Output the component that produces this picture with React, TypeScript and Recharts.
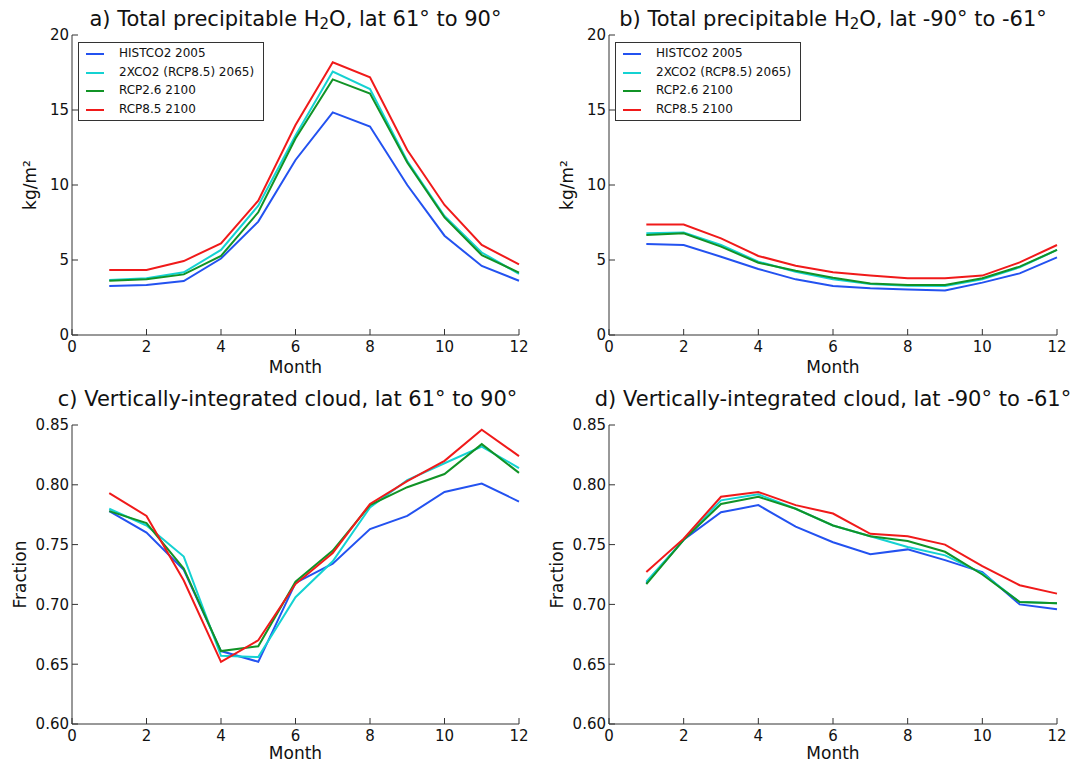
import React from 'react';
import { LineChart, Line, XAxis, YAxis } from 'recharts';

const months = [1, 2, 3, 4, 5, 6, 7, 8, 9, 10, 11, 12];

const seriesNames = ['HISTCO2 2005', '2XCO2 (RCP8.5) 2065)', 'RCP2.6 2100', 'RCP8.5 2100'];
const seriesKeys = ['hist', 'x2co2', 'rcp26', 'rcp85'];
const seriesColors = ['#2352f0', '#14d2d2', '#119326', '#f01a1a'];

const monthTicks = [0, 2, 4, 6, 8, 10, 12];
const pwTicks = [0, 5, 10, 15, 20];
const cloudTicks = [0.6, 0.65, 0.7, 0.75, 0.8, 0.85];

// a) total precipitable water, lat 61 to 90
const pwNorthHist = [3.27, 3.33, 3.6, 5.1, 7.56, 11.67, 14.84, 13.9, 10.0, 6.62, 4.6, 3.62];
const pwNorth2x = [3.67, 3.78, 4.18, 5.67, 8.62, 13.3, 17.56, 16.4, 11.6, 7.93, 5.5, 4.07];
const pwNorth26 = [3.62, 3.71, 4.04, 5.27, 8.18, 13.1, 17.04, 16.1, 11.5, 7.84, 5.33, 4.16];
const pwNorth85 = [4.33, 4.33, 4.93, 6.11, 8.96, 14.0, 18.18, 17.18, 12.33, 8.67, 6.0, 4.71];

// b) total precipitable water, lat -90 to -61
const pwSouthHist = [6.07, 6.0, 5.22, 4.4, 3.71, 3.27, 3.11, 3.04, 2.96, 3.49, 4.11, 5.18];
const pwSouth2x = [6.78, 6.84, 6.0, 4.89, 4.22, 3.71, 3.4, 3.29, 3.27, 3.71, 4.51, 5.67];
const pwSouth26 = [6.67, 6.78, 5.89, 4.82, 4.29, 3.82, 3.44, 3.33, 3.33, 3.78, 4.56, 5.67];
const pwSouth85 = [7.36, 7.36, 6.44, 5.27, 4.62, 4.18, 3.96, 3.78, 3.78, 3.96, 4.84, 6.0];

// c) vertically-integrated cloud, lat 61 to 90
const clNorthHist = [0.778, 0.76, 0.729, 0.661, 0.652, 0.718, 0.734, 0.763, 0.774, 0.794, 0.801, 0.786];
const clNorth2x = [0.78, 0.766, 0.74, 0.657, 0.656, 0.706, 0.736, 0.781, 0.804, 0.818, 0.832, 0.814];
const clNorth26 = [0.778, 0.768, 0.73, 0.661, 0.665, 0.719, 0.745, 0.783, 0.798, 0.809, 0.834, 0.81];
const clNorth85 = [0.793, 0.774, 0.72, 0.652, 0.67, 0.717, 0.743, 0.784, 0.803, 0.82, 0.846, 0.824];

// d) vertically-integrated cloud, lat -90 to -61
const clSouthHist = [0.718, 0.754, 0.777, 0.783, 0.765, 0.752, 0.742, 0.746, 0.737, 0.727, 0.7, 0.696];
const clSouth2x = [0.719, 0.754, 0.787, 0.792, 0.78, 0.766, 0.757, 0.748, 0.741, 0.726, 0.702, 0.701];
const clSouth26 = [0.717, 0.754, 0.784, 0.79, 0.78, 0.766, 0.757, 0.753, 0.744, 0.725, 0.702, 0.701];
const clSouth85 = [0.727, 0.755, 0.79, 0.794, 0.783, 0.776, 0.759, 0.757, 0.75, 0.732, 0.716, 0.709];

const FONT = '"DejaVu Sans", sans-serif';
const FRAME = '#333';

const toRows = (cols: number[][]) =>
  months.map((m, i) => {
    const row: Record<string, number> = { month: m };
    seriesKeys.forEach((k, j) => (row[k] = cols[j][i]));
    return row;
  });

const yTitle = (text: string, fromAxis: number) => (props: any) => {
  const vb = props.viewBox;
  const x = vb.x + vb.width - fromAxis;
  const y = vb.y + vb.height / 2;
  return (
    <text x={x} y={y} transform={`rotate(-90 ${x} ${y})`} textAnchor="middle" fontFamily={FONT} fontSize={17} fill="#111">
      {text}
    </text>
  );
};

const xTitle = (dy: number) => (props: any) => {
  const vb = props.viewBox;
  return (
    <text x={vb.x + vb.width / 2} y={vb.y + dy} textAnchor="middle" fontFamily={FONT} fontSize={17} fill="#111">
      Month
    </text>
  );
};

const Legend4 = ({ left, top }: { left: number; top: number }) => (
  <div
    style={{
      position: 'absolute', left, top, width: 184, height: 77, border: `1px solid ${FRAME}`,
      background: '#fff', fontFamily: FONT, fontSize: 12, color: '#111',
    }}
  >
    {seriesNames.map((name, i) => (
      <div key={name} style={{ position: 'absolute', left: 0, top: 2 + i * 18.5, height: 18, width: 184 }}>
        <div style={{ position: 'absolute', left: 7, top: 8, width: 18, height: 2, background: seriesColors[i] }} />
        <span style={{ position: 'absolute', left: 40, top: 1, whiteSpace: 'nowrap' }}>{name}</span>
      </div>
    ))}
  </div>
);

interface PanelProps {
  left: number;
  top: number;
  height: number;
  yWidth: number;
  right: number;
  xHeight: number;
  xLabelDy: number;
  title: React.ReactNode;
  titleTop: number;
  titleShift?: number;
  yLabel: string;
  yLabelOffset: number;
  cols: number[][];
  domain: [number, number];
  yTicks: number[];
  fmt: (v: number) => string;
  legend?: boolean;
}

const Panel = (p: PanelProps) => {
  const width = 540;
  const data = toRows(p.cols);
  const plotW = width - p.yWidth - p.right;
  return (
    <div style={{ position: 'absolute', left: p.left, top: p.top, width, height: p.height }}>
      <div
        style={{
          position: 'absolute', left: p.yWidth - 60 + (p.titleShift || 0), width: plotW + 120, top: p.titleTop,
          textAlign: 'center', fontFamily: FONT, fontSize: 21, lineHeight: '21px', color: '#111', whiteSpace: 'nowrap',
        }}
      >
        {p.title}
      </div>
      <LineChart width={width} height={p.height} data={data} margin={{ top: 35, right: p.right, bottom: 0, left: 0 }}>
        <XAxis
          dataKey="month" type="number" domain={[0, 12]} ticks={monthTicks} height={p.xHeight}
          tickSize={-6} tickMargin={12} stroke={FRAME} tick={{ fill: '#111', fontSize: 15, fontFamily: FONT }}
          label={xTitle(p.xLabelDy)} interval={0}
        />
        <XAxis
          xAxisId="top" orientation="top" type="number" domain={[0, 12]} ticks={monthTicks} height={0}
          tickSize={-6} stroke={FRAME} tick={false}
        />
        <YAxis
          type="number" domain={p.domain} ticks={p.yTicks} width={p.yWidth} tickSize={-6} tickMargin={9}
          stroke={FRAME} tick={{ fill: '#111', fontSize: 15, fontFamily: FONT }} tickFormatter={p.fmt}
          label={yTitle(p.yLabel, p.yLabelOffset)} interval={0}
        />
        <YAxis
          yAxisId="right" orientation="right" type="number" domain={p.domain} ticks={p.yTicks} width={0}
          tickSize={-6} stroke={FRAME} tick={false}
        />
        {seriesKeys.map((k, i) => (
          <Line
            key={k} dataKey={k} type="linear" stroke={seriesColors[i]} strokeWidth={2} dot={false}
            isAnimationActive={false}
          />
        ))}
      </LineChart>
      {p.legend && <Legend4 left={p.yWidth + 6} top={42} />}
    </div>
  );
};

const pwTitle = (tag: string, lat: string) => (
  <span>
    {tag} Total precipitable H<sub style={{ fontSize: 15, verticalAlign: -3 }}>2</sub>O, lat {lat}
  </span>
);

export default function App() {
  const intFmt = (v: number) => String(v);
  const fracFmt = (v: number) => v.toFixed(2);
  return (
    <div style={{ position: 'absolute', left: 0, top: 0, width: 1087, height: 765, background: '#fff', overflow: 'hidden' }}>
      <Panel
        left={0} top={0} height={380} yWidth={72} right={21} xHeight={45} xLabelDy={38}
        title={pwTitle('a)', '61° to 90°')} titleTop={9}
        yLabel="kg/m²" yLabelOffset={36}
        cols={[pwNorthHist, pwNorth2x, pwNorth26, pwNorth85]} domain={[0, 20]} yTicks={pwTicks} fmt={intFmt} legend
      />
      <Panel
        left={540} top={0} height={380} yWidth={69} right={23} xHeight={45} xLabelDy={38}
        title={pwTitle('b)', '-90° to -61°')} titleTop={9}
        yLabel="kg/m²" yLabelOffset={36}
        cols={[pwSouthHist, pwSouth2x, pwSouth26, pwSouth85]} domain={[0, 20]} yTicks={pwTicks} fmt={intFmt} legend
      />
      <Panel
        left={0} top={390} height={375} yWidth={72} right={21} xHeight={41} xLabelDy={35}
        title="c) Vertically-integrated cloud, lat 61° to 90°" titleTop={-1} titleShift={-8}
        yLabel="Fraction" yLabelOffset={46}
        cols={[clNorthHist, clNorth2x, clNorth26, clNorth85]} domain={[0.6, 0.85]} yTicks={cloudTicks} fmt={fracFmt}
      />
      <Panel
        left={540} top={390} height={375} yWidth={69} right={23} xHeight={41} xLabelDy={35}
        title="d) Vertically-integrated cloud, lat -90° to -61°" titleTop={-1}
        yLabel="Fraction" yLabelOffset={46}
        cols={[clSouthHist, clSouth2x, clSouth26, clSouth85]} domain={[0.6, 0.85]} yTicks={cloudTicks} fmt={fracFmt}
      />
    </div>
  );
}
